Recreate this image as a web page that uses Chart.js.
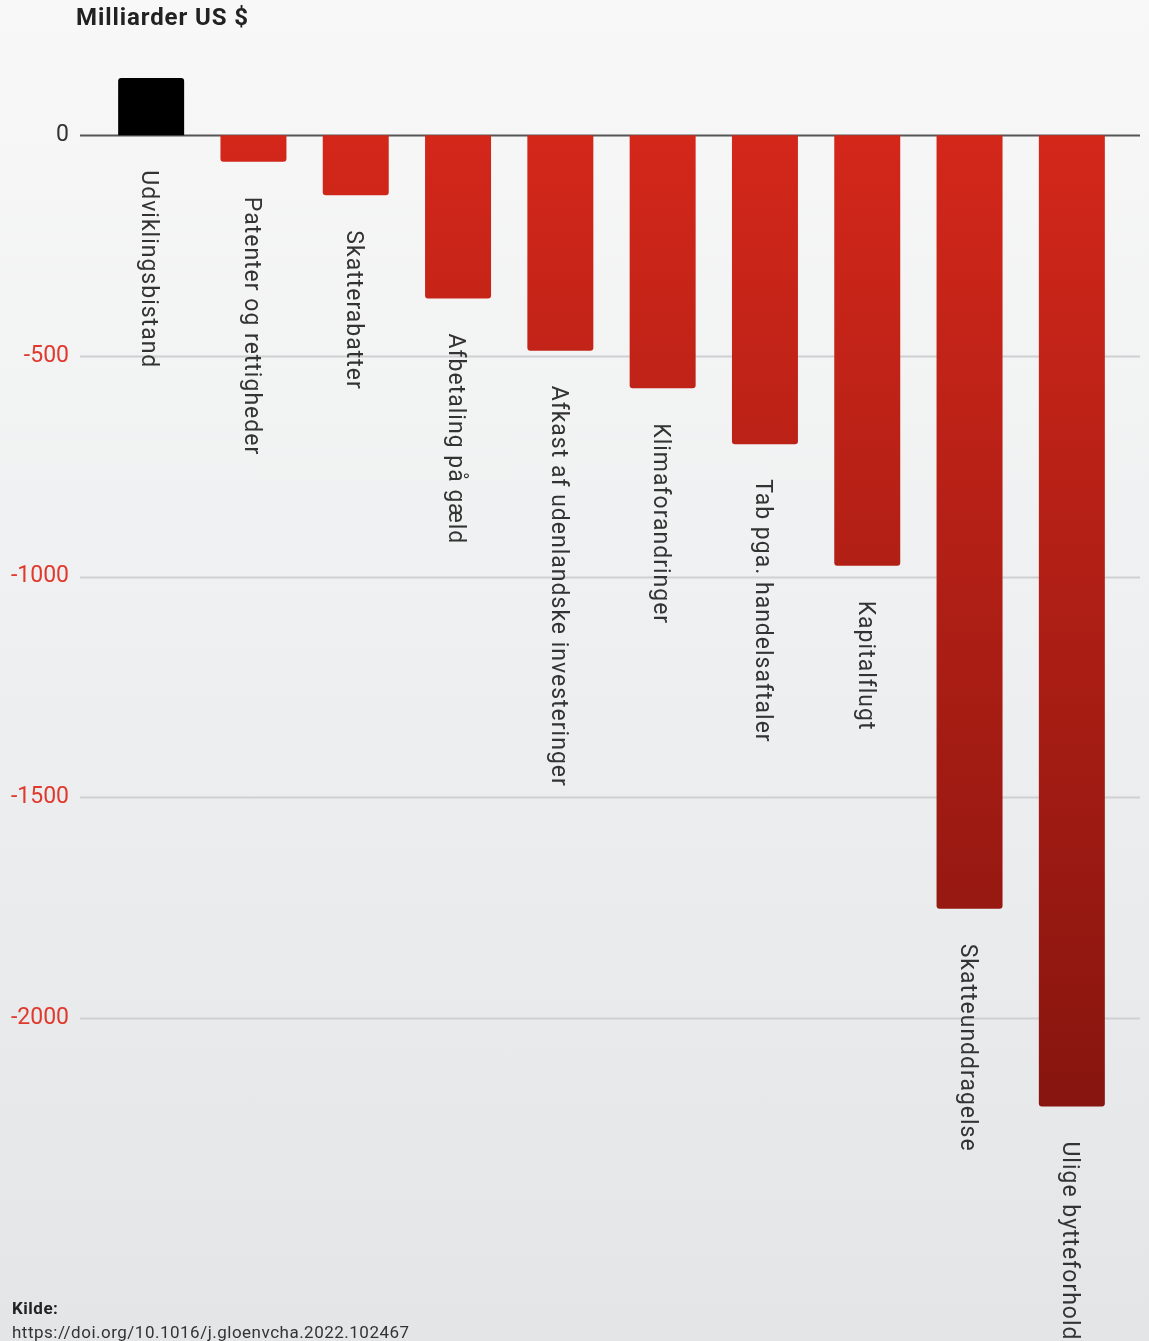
<!DOCTYPE html>
<html>
<head>
<meta charset="utf-8">
<script src="https://cdn.jsdelivr.net/npm/chart.js@4"></script>
<style>
  html, body { margin: 0; padding: 0; }
  body {
    width: 1149px; height: 1341px; overflow: hidden; position: relative;
    background: linear-gradient(to bottom, #f8f8f8 0%, #eeeff0 50%, #e4e5e7 100%);
    font-family: Roboto, "Noto Sans", sans-serif;
  }
  #wrap { position: absolute; left: 0; top: 0; width: 1149px; height: 1341px; }
  #title { position: absolute; left: 76px; top: 3px; font-size: 24px; font-weight: 700; letter-spacing: 0.9px; color: #222; }
  #source { position: absolute; left: 12px; top: 1296px; font-size: 17px; line-height: 24px; letter-spacing: 0.5px; color: #333; }
  #source b { color: #222; }
</style>
</head>
<body>
<div id="wrap"><canvas id="chart"></canvas></div>
<div id="title">Milliarder US $</div>
<div id="source"><b>Kilde:</b><br>https://doi.org/10.1016/j.gloenvcha.2022.102467</div>
<script>
const categories = [
  'Udviklingsbistand', 'Patenter og rettigheder', 'Skatterabatter', 'Afbetaling på gæld',
  'Afkast af udenlandske investeringer', 'Klimaforandringer', 'Tab pga. handelsaftaler',
  'Kapitalflugt', 'Skatteunddragelse', 'Ulige bytteforhold'
];
const values = [130, -60, -136, -370, -488, -573, -700, -975, -1752, -2200];
const yTicks = [0, -500, -1000, -1500, -2000];

// red gradient that follows the canvas, so long bars get darker further down
const barColor = ctx => {
  const v = ctx.raw;
  if (v >= 0) return '#000';
  const chart = ctx.chart;
  if (!chart.chartArea) return '#c3231a';
  const y = chart.scales.y;
  const g = chart.ctx.createLinearGradient(0, y.getPixelForValue(0), 0, y.getPixelForValue(-2200));
  g.addColorStop(0, '#d3271a');
  g.addColorStop(1, '#87150f');
  return g;
};

// gridlines a bit wider than the bar area
const gridPlugin = {
  id: 'grid',
  beforeDatasetsDraw(chart) {
    const c = chart.ctx;
    const y = chart.scales.y;
    c.save();
    yTicks.forEach(t => {
      const py = Math.round(y.getPixelForValue(t)) + 0.5;
      c.beginPath();
      c.moveTo(80, py);
      c.lineTo(1140, py);
      c.lineWidth = 2;
      c.strokeStyle = t === 0 ? '#555' : '#cfd0d2';
      c.stroke();
    });
    c.restore();
  }
};

// vertical category names under each bar
const labelPlugin = {
  id: 'barLabels',
  afterDatasetsDraw(chart) {
    const c = chart.ctx;
    const y = chart.scales.y;
    const zero = y.getPixelForValue(0);
    c.save();
    c.font = '23px Roboto, "Noto Sans", sans-serif';
    c.letterSpacing = '1px';
    c.fillStyle = '#333';
    c.textAlign = 'left';
    c.textBaseline = 'middle';
    chart.getDatasetMeta(0).data.forEach((bar, i) => {
      const start = Math.max(bar.y, zero) + 35;
      c.save();
      c.translate(bar.x - 3, start);
      c.rotate(Math.PI / 2);
      c.fillText(categories[i], 0, 0);
      c.restore();
    });
    c.restore();
  }
};

new Chart(document.getElementById('chart'), {
  type: 'bar',
  data: {
    labels: categories,
    datasets: [{
      data: values,
      backgroundColor: barColor,
      borderRadius: 3,
      borderSkipped: 'start',
      barPercentage: 0.645,
      categoryPercentage: 1
    }]
  },
  options: {
    responsive: true,
    maintainAspectRatio: false,
    animation: false,
    layout: { padding: { top: 47, bottom: 58, right: 26, left: 0 } },
    plugins: { legend: { display: false }, tooltip: { enabled: false } },
    scales: {
      x: { display: false, offset: true },
      y: {
        min: -2600,
        max: 200,
        border: { display: false },
        grid: { display: false },
        afterBuildTicks: s => { s.ticks = yTicks.map(v => ({ value: v })); },
        afterFit: s => { s.width = 100; },
        ticks: {
          padding: 23,
          font: { family: 'Roboto, "Noto Sans", sans-serif', size: 23 },
          color: ctx => ctx.tick.value === 0 ? '#333' : '#e0392e',
          callback: v => String(v)
        }
      }
    }
  },
  plugins: [gridPlugin, labelPlugin]
});
</script>
</body>
</html>
